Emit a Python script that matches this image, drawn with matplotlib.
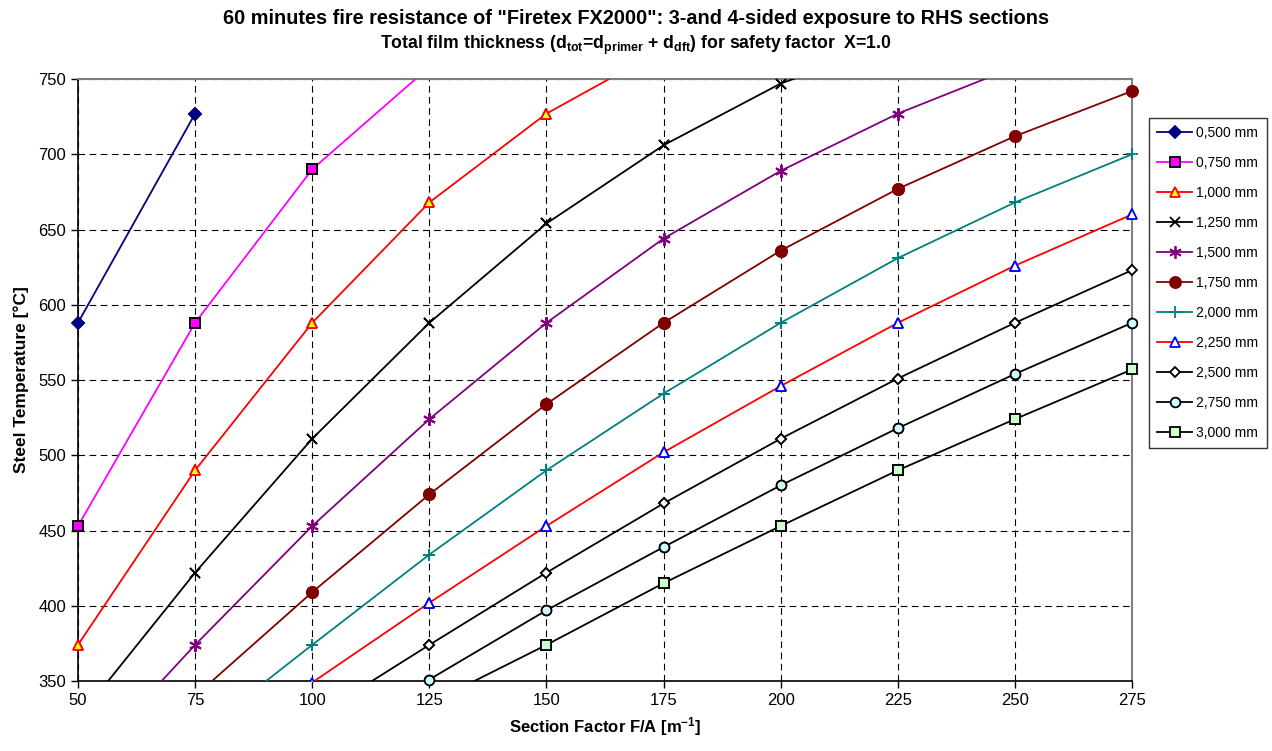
import numpy as np
import matplotlib
matplotlib.use("Agg")
import matplotlib.pyplot as plt

plt.rcParams['font.family'] = ['Liberation Sans', 'DejaVu Sans']
plt.rcParams['mathtext.fontset'] = 'custom'
plt.rcParams['mathtext.rm'] = 'Liberation Sans:bold'
plt.rcParams['mathtext.bf'] = 'Liberation Sans:bold'
plt.rcParams['mathtext.it'] = 'Liberation Sans:bold'

nan = np.nan

# Section factor F/A [1/m]
section_factor = [50, 75, 100, 125, 150, 175, 200, 225, 250, 275]

# Steel temperature [°C] per total film thickness
t_0500 = [588, 727, nan, nan, nan, nan, nan, nan, nan, nan]
t_0750 = [453, 588, 690, 758, nan, nan, nan, nan, nan, nan]
t_1000 = [374, 490, 588, 668, 727, 770, nan, nan, nan, nan]
t_1250 = [325, 422, 511, 588, 654, 706, 747, 775, nan, nan]
t_1500 = [290, 374, 453, 524, 588, 644, 689, 727, 758, nan]
t_1750 = [nan, 340, 409, 474, 534, 588, 636, 677, 712, 742]
t_2000 = [nan, 313, 374, 434, 490, 541, 588, 631, 668, 700]
t_2250 = [nan, nan, 349, 402, 453, 502, 546, 588, 626, 660]
t_2500 = [nan, nan, 325, 374, 422, 468, 511, 551, 588, 623]
t_2750 = [nan, nan, 308, 351, 397, 439, 480, 518, 554, 588]
t_3000 = [nan, nan, nan, 335, 374, 415, 453, 490, 524, 557]

labels = ['0,500 mm', '0,750 mm', '1,000 mm', '1,250 mm', '1,500 mm', '1,750 mm',
          '2,000 mm', '2,250 mm', '2,500 mm', '2,750 mm', '3,000 mm']
series = [t_0500, t_0750, t_1000, t_1250, t_1500, t_1750,
          t_2000, t_2250, t_2500, t_2750, t_3000]

# line colour, marker, marker face, marker edge, marker size
styles = [
    ('#000080', 'D', '#000080', '#000080', 6),
    ('#FF00FF', 's', '#FF00FF', '#000000', 7),
    ('#FF0000', '^', '#FFFF00', '#FF0000', 7),
    ('#000000', 'x', '#000000', '#000000', 7),
    ('#800080', (6, 2, 0), '#800080', '#800080', 9),
    ('#800000', 'o', '#800000', '#800000', 8),
    ('#008080', '+', '#008080', '#008080', 8),
    ('#FF0000', '^', '#FFFFFF', '#0000FF', 7),
    ('#000000', 'D', '#FFFFFF', '#000000', 5),
    ('#000000', 'o', '#CCFFFF', '#000000', 7),
    ('#000000', 's', '#CCFFCC', '#000000', 7),
]

fig = plt.figure(figsize=(12.72, 7.51), dpi=100)
ax = fig.add_axes([0.0613, 0.0932, 0.8287, 0.8016])

x = np.array(section_factor, dtype=float)
for vals, lab, (lc, mk, mf, me, ms) in zip(series, labels, styles):
    y = np.array(vals, dtype=float)
    ax.plot(x, y, color=lc, lw=1.3, marker=mk, markerfacecolor=mf,
            markeredgecolor=me, markersize=ms, markeredgewidth=1.3,
            label=lab, zorder=3)
    # markers inside the value range drawn unclipped (sit on the axes edges)
    inside = (y >= 350) & (y <= 750)
    ax.plot(x[inside], y[inside], ls='none', marker=mk, markerfacecolor=mf,
            markeredgecolor=me, markersize=ms, markeredgewidth=1.3,
            clip_on=False, zorder=4)

ax.set_xlim(50, 275)
ax.set_ylim(350, 750)
ax.set_xticks(section_factor)
ax.set_yticks(range(350, 751, 50))
ax.tick_params(axis='both', direction='out', length=5, width=1, labelsize=12,
               colors='black')
ax.grid(True, color='black', linestyle=(0, (6, 4)), linewidth=0.8)
ax.set_axisbelow(True)

for side in ['top', 'right']:
    ax.spines[side].set_color('#808080')
    ax.spines[side].set_linewidth(1.5)
for side in ['left', 'bottom']:
    ax.spines[side].set_color('black')
    ax.spines[side].set_linewidth(1.2)

ax.set_xlabel(r'Section Factor F/A [m$^{\mathrm{-1}}$]', fontsize=12,
              fontweight='bold', labelpad=5)
ax.set_ylabel('Steel Temperature [°C]', fontsize=12.5, fontweight='bold',
              labelpad=7)

fig.text(0.5, 0.976, '60 minutes fire resistance of "Firetex FX2000": 3-and 4-sided exposure to RHS sections',
         ha='center', va='center', fontsize=14.3, fontweight='bold')
fig.text(0.5, 0.940, r'Total film thickness (d$_{\mathrm{tot}}$=d$_{\mathrm{primer}}$ + d$_{\mathrm{dft}}$) for safety factor  X=1.0',
         ha='center', va='center', fontsize=12.7, fontweight='bold')

leg = fig.legend(loc='upper left', bbox_to_anchor=(0.9033, 0.8429),
                 fontsize=10, frameon=True, fancybox=False, borderaxespad=0,
                 labelspacing=1.15, handlelength=2.5, handletextpad=0.3,
                 borderpad=0.6)
leg.get_frame().set_edgecolor('black')
leg.get_frame().set_linewidth(1.0)

fig.savefig('out.png', dpi=100)
